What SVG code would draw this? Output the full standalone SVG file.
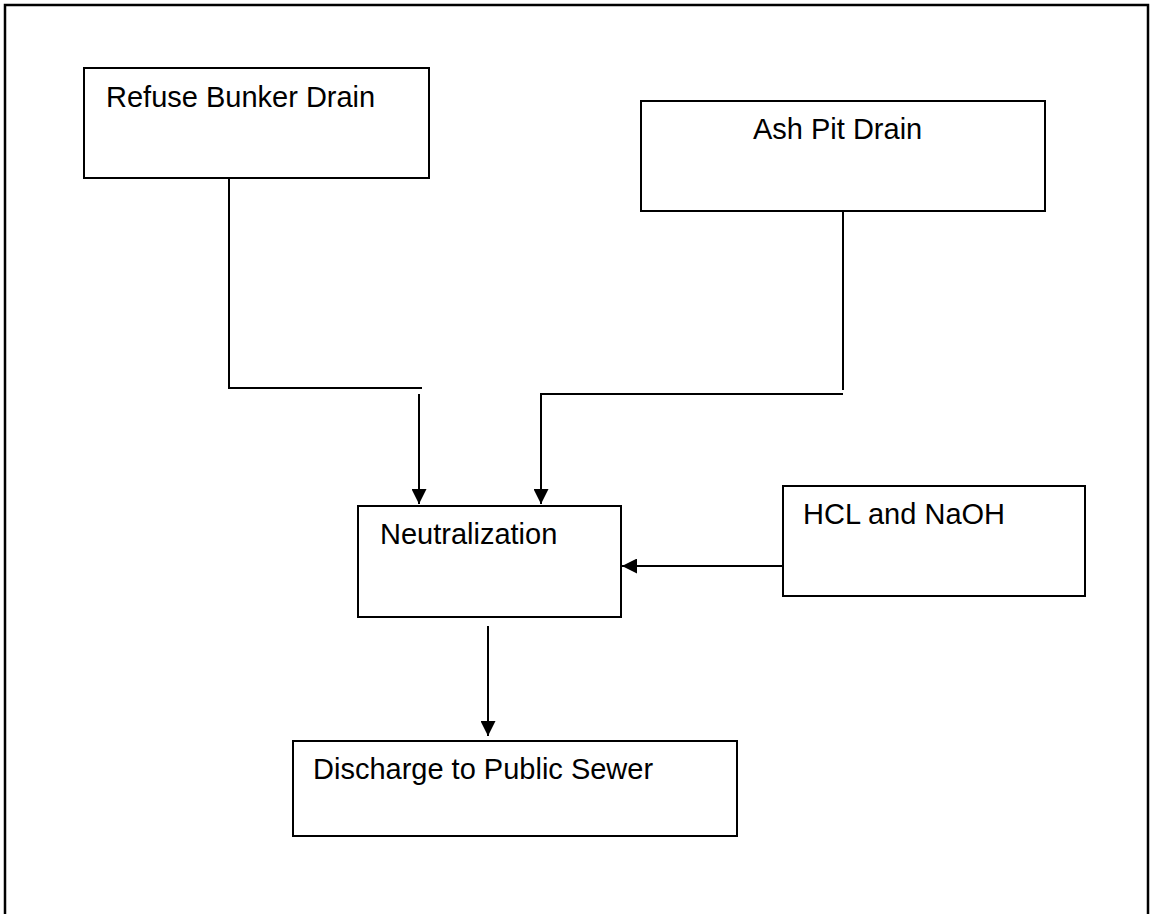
<svg xmlns="http://www.w3.org/2000/svg" width="1151" height="914" viewBox="0 0 1151 914">
  <style>
    .box { fill: #ffffff; stroke: #000000; stroke-width: 2; }
    .label { font-family: "Liberation Sans", Arial, sans-serif; font-size: 29px; fill: #000000; }
    .wire { fill: none; stroke: #000000; stroke-width: 2; }
    .frame { fill: none; stroke: #000000; stroke-width: 2.5; }
  </style>
  <defs>
    <marker id="arrow" viewBox="0 0 15 15" refX="15" refY="7.5" markerWidth="15" markerHeight="15" markerUnits="userSpaceOnUse" orient="auto">
      <path d="M0,0 L15,7.5 L0,15 Z" fill="#000000"/>
    </marker>
  </defs>

  <rect width="1151" height="914" fill="#ffffff"/>

  <!-- outer frame: open at the bottom -->
  <path class="frame" d="M5,914 V5 H1148 V914"/>

  <g id="connectors">
    <polyline class="wire" points="229,178 229,388 422,388"/>
    <line class="wire" x1="419" y1="394" x2="419" y2="504" marker-end="url(#arrow)"/>
    <line class="wire" x1="843" y1="211" x2="843" y2="390"/>
    <polyline class="wire" points="843,394 541,394 541,504" marker-end="url(#arrow)"/>
    <line class="wire" x1="783" y1="566" x2="622" y2="566" marker-end="url(#arrow)"/>
    <line class="wire" x1="488" y1="626" x2="488" y2="736" marker-end="url(#arrow)"/>
  </g>

  <g id="refuse-bunker-drain">
    <rect class="box" x="84" y="68" width="345" height="110"/>
    <text class="label" x="106" y="107">Refuse Bunker Drain</text>
  </g>

  <g id="ash-pit-drain">
    <rect class="box" x="641" y="101" width="404" height="110"/>
    <text class="label" x="753" y="139">Ash Pit Drain</text>
  </g>

  <g id="neutralization">
    <rect class="box" x="358" y="506" width="263" height="111"/>
    <text class="label" x="380" y="544">Neutralization</text>
  </g>

  <g id="hcl-naoh">
    <rect class="box" x="783" y="486" width="302" height="110"/>
    <text class="label" x="803" y="524">HCL and NaOH</text>
  </g>

  <g id="discharge">
    <rect class="box" x="293" y="741" width="444" height="95"/>
    <text class="label" x="313" y="779">Discharge to Public Sewer</text>
  </g>
</svg>
